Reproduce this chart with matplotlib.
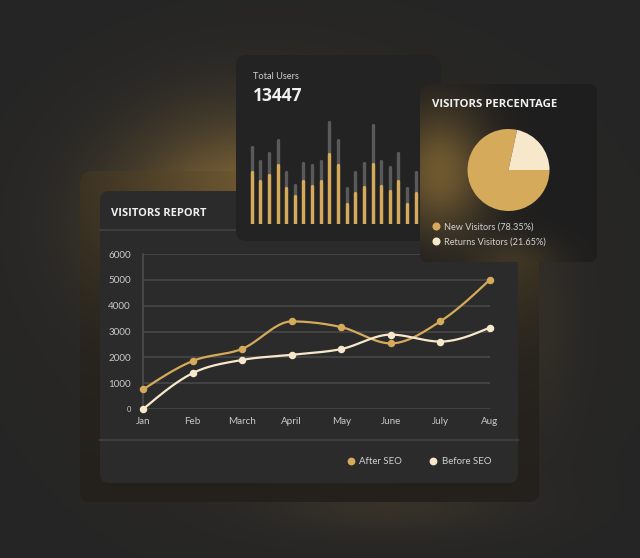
import math
import numpy as np
import matplotlib
matplotlib.use("Agg")
import matplotlib.pyplot as plt
from matplotlib.patches import FancyBboxPatch
from matplotlib.lines import Line2D

# ---------------- data ----------------
months = ["Jan", "Feb", "March", "April", "May", "June", "July", "Aug"]
after_seo = [760, 1860, 2330, 3390, 3170, 2540, 3390, 5000]
before_seo = [0, 1390, 1900, 2100, 2320, 2880, 2610, 3150]
y_ticks = [0, 1000, 2000, 3000, 4000, 5000, 6000]
y_tick_labels = ["0", "1000", "2000", "3000", "4000", "5000", "6000"]

total_users = 13447
bar_total = [76, 62, 70, 83, 51, 39, 60, 58, 62, 101, 83, 36, 51, 60, 98, 62, 56, 70, 36, 51]
bar_part = [51, 42, 48, 58, 36, 28, 42, 38, 42, 69, 58, 20, 31, 37, 59, 38, 33, 42, 20, 31]

pie_labels = ["New Visitors (78.35%)", "Returns Visitors (21.65%)"]
pie_values = [78.35, 21.65]
legend_labels = ["After SEO", "Before SEO"]

# ---------------- style ----------------
GOLD = "#D5AA5B"
CREAM = "#F7E8CC"
GRID = "#474747"
TXT = "#c9c9c9"
TITLE = "#f0f0f0"
TITLE_FONT = ["Open Sans", "DejaVu Sans"]
SMALL_FONT = ["Lato", "DejaVu Sans"]

W, H = 640, 558
fig = plt.figure(figsize=(W / 100, H / 100), dpi=100)


def rect(x0, y0, x1, y1):
    return [x0 / W, 1 - y1 / H, (x1 - x0) / W, (y1 - y0) / H]


def overlay(z):
    a = fig.add_axes([0, 0, 1, 1], zorder=z)
    a.set_xlim(0, W)
    a.set_ylim(H, 0)
    a.axis("off")
    a.patch.set_alpha(0)
    return a


def card(a, x, y, w, h, fc, r=10, alpha=1.0, z=1):
    p = FancyBboxPatch((x, y), w, h, boxstyle=f"round,pad=0,rounding_size={r}",
                       fc=fc, ec="none", alpha=alpha, zorder=z)
    a.add_patch(p)
    return p


def shade(dark, gold, g):
    dark = np.array(dark) / 255
    gold = np.array(gold) / 255
    return dark + np.clip(g, 0, 1)[..., None] * (gold - dark)


xs = np.arange(W) + 0.5
ys = np.arange(H) + 0.5
X, Y = np.meshgrid(xs, ys)

# ---------------- background ----------------
ax_bg = overlay(0)
bg_g = (0.95 * np.exp(-(((X - 250) / 120) ** 2 + ((Y - 215) / 92) ** 2))
        + 0.16 * np.exp(-(((X - 390) / 120) ** 2 + ((Y - 505) / 28) ** 2))
        + 0.10 * np.exp(-(((X - 545) / 30) ** 2 + ((Y - 320) / 110) ** 2))
        + 0.07 * np.exp(-(((X - 320) / 280) ** 2 + ((Y - 300) / 240) ** 2)))
ax_bg.imshow(shade((37, 37, 37), (132, 104, 55), bg_g), extent=(0, W, H, 0), zorder=0,
             interpolation="bilinear")

# outer frame with its own warm glow
fr = card(ax_bg, 80, 171, 459, 331, "#1b1b1b", r=11, z=1)
fr_g = 0.8 * np.exp(-(((X - 330) / 220) ** 2 + ((Y - 175) / 130) ** 2)) + 0.1
fim = ax_bg.imshow(shade((26, 26, 26), (132, 104, 55), fr_g), extent=(0, W, H, 0), zorder=1.5,
                   interpolation="bilinear")
fim.set_clip_path(fr)
ax_bg.set_xlim(0, W)
ax_bg.set_ylim(H, 0)

# report card
card(ax_bg, 100, 191, 418, 292, "#2b2b2b", r=9, z=2)
ax_bg.plot([100, 518], [230, 230], color="#3d3d3d", lw=1.6, zorder=3)
ax_bg.plot([100, 518], [440, 440], color="#3d3d3d", lw=1.6, zorder=3)
ax_bg.text(111, 215.5, "VISITORS REPORT", color=TITLE, fontsize=8.0, fontweight="bold",
           family=TITLE_FONT, va="baseline", ha="left", zorder=4)

# ---------------- line chart ----------------
ax = fig.add_axes(rect(143.3, 254, 489.7, 409), zorder=1)
ax.patch.set_alpha(0)
xpos = np.arange(len(months))


def monotone(xv, yv, n=40):
    xv = np.asarray(xv, float)
    yv = np.asarray(yv, float)
    h = np.diff(xv)
    s = np.diff(yv) / h
    m = np.zeros_like(yv)
    for i in range(1, len(xv) - 1):
        if s[i - 1] * s[i] <= 0:
            m[i] = 0.0
        else:
            p = (s[i - 1] * h[i] + s[i] * h[i - 1]) / (h[i - 1] + h[i])
            m[i] = 2 * np.sign(s[i]) * min(abs(s[i - 1]), abs(s[i]), 0.5 * abs(p))
    m[0] = (3 * s[0] - m[1]) / 2
    m[-1] = (3 * s[-1] - m[-2]) / 2
    ox, oy = [], []
    for i in range(len(xv) - 1):
        t = np.linspace(0, 1, n)
        h00 = 2 * t**3 - 3 * t**2 + 1
        h10 = t**3 - 2 * t**2 + t
        h01 = -2 * t**3 + 3 * t**2
        h11 = t**3 - t**2
        ox.append(xv[i] + t * h[i])
        oy.append(h00 * yv[i] + h10 * h[i] * m[i] + h01 * yv[i + 1] + h11 * h[i] * m[i + 1])
    return np.concatenate(ox), np.concatenate(oy)


for series, col in ((after_seo, GOLD), (before_seo, CREAM)):
    cx, cy = monotone(xpos, series)
    ax.plot(cx, cy, color=col, lw=1.6, clip_on=False, zorder=3, solid_capstyle="round")
    ax.plot(xpos, series, "o", color=col, ms=5.4, mec="none", clip_on=False, zorder=4)

ax.set_xlim(0, 7)
ax.set_ylim(0, 6000)
ax.set_yticks(y_ticks)
ax.set_yticklabels(y_tick_labels)
ax.set_xticks(xpos)
ax.set_xticklabels(months)
ax.grid(axis="y", color=GRID, lw=1.2)
ax.set_axisbelow(True)
for sp in ("top", "right", "bottom"):
    ax.spines[sp].set_visible(False)
ax.spines["left"].set_color("#4c4c4c")
ax.spines["left"].set_linewidth(1.2)
ax.tick_params(length=0, colors=TXT, labelsize=7.1)
ax.tick_params(axis="y", pad=9)
ax.tick_params(axis="x", pad=5.5)
for lab in ax.get_xticklabels() + ax.get_yticklabels():
    lab.set_family(SMALL_FONT)
ax.get_yticklabels()[0].set_fontsize(5.4)

handles = [Line2D([], [], ls="none", marker="o", ms=5.6, color=c, mec="none") for c in (GOLD, CREAM)]
leg = ax.legend(handles, legend_labels, loc="center right", bbox_to_anchor=(491 / W, 1 - 462 / H),
                bbox_transform=fig.transFigure, ncol=2, frameon=False, borderpad=0, borderaxespad=0,
                handlelength=1.0, handletextpad=0.4, columnspacing=2.7,
                prop={"family": SMALL_FONT, "size": 6.9})
for t in leg.get_texts():
    t.set_color("#d2d2d2")

# ---------------- total users card ----------------
ax_mid = overlay(2)
card(ax_mid, 236, 55, 205, 186, "#232323", r=10, z=1)
ax_mid.text(253, 79, "Total Users", color="#d0d0d0", fontsize=6.7, family=SMALL_FONT,
            va="baseline", ha="left", zorder=2)
ax_mid.text(252.5, 101, f"{total_users}", color=TITLE, fontsize=12.5, fontweight="bold",
            family=TITLE_FONT, va="baseline", ha="left", zorder=2)

step = 8.63
x0 = 251.7
ax_bar = fig.add_axes(rect(240, 100, 440, 223.5), zorder=3)
ax_bar.patch.set_alpha(0)
bx = np.arange(len(bar_total))
ax_bar.vlines(bx, 0, bar_total, color="#5a5a5a", lw=2.4, capstyle="round")
ax_bar.vlines(bx, 0, bar_part, color=GOLD, lw=2.4, capstyle="round")
ax_bar.set_xlim((240 - x0) / step, (440 - x0) / step)
ax_bar.set_ylim(0, 123.5)
ax_bar.axis("off")

# ---------------- pie card ----------------
ax_top = overlay(4)
pc = card(ax_top, 420, 84, 177, 178, "#1e1e1e", r=9, z=1)
pg = (0.9 * np.exp(-(((X - 440) / 48) ** 2 + ((Y - 172) / 62) ** 2))
      + 0.35 * np.exp(-(((X - 515) / 45) ** 2 + ((Y - 262) / 25) ** 2)))
pim = ax_top.imshow(shade((30, 30, 30), (120, 95, 50), pg), extent=(0, W, H, 0), zorder=2,
                    interpolation="bilinear")
pim.set_clip_path(pc)
ax_top.set_xlim(0, W)
ax_top.set_ylim(H, 0)
ax_top.text(432, 107, "VISITORS PERCENTAGE", color=TITLE, fontsize=8.2, fontweight="bold",
            family=TITLE_FONT, va="baseline", ha="left", zorder=3)

ax_pie = fig.add_axes(rect(467.5, 129, 549.5, 211), zorder=5)
ax_pie.patch.set_alpha(0)
start = 360 * pie_values[1] / sum(pie_values)
ax_pie.pie(pie_values, colors=[GOLD, CREAM], startangle=start, counterclock=True,
           wedgeprops={"linewidth": 0, "edgecolor": "none"})
ax_pie.set_xlim(-1, 1)
ax_pie.set_ylim(-1, 1)
ph = [Line2D([], [], ls="none", marker="o", ms=5.8, color=c, mec="none") for c in (GOLD, CREAM)]
pleg = ax_pie.legend(ph, pie_labels, loc="upper left", bbox_to_anchor=(431.6 / W, 1 - 222.5 / H),
                     bbox_transform=fig.transFigure, frameon=False, borderpad=0, borderaxespad=0,
                     handlelength=1.0, handletextpad=0.4, labelspacing=0.62,
                     prop={"family": SMALL_FONT, "size": 6.6})
for t in pleg.get_texts():
    t.set_color("#d2d2d2")

fig.savefig("out.png", dpi=100)
